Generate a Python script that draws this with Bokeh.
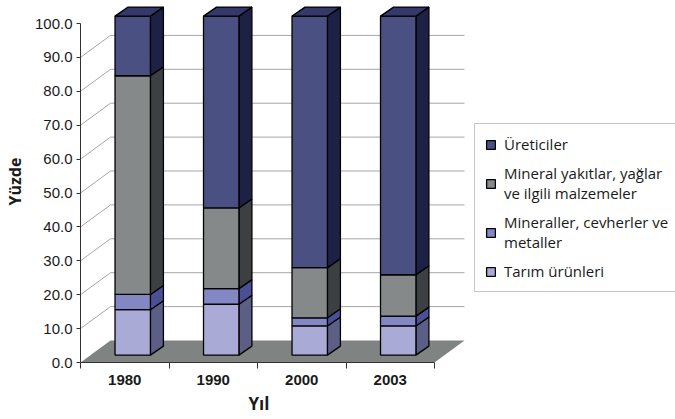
from bokeh.plotting import figure
from bokeh.models import Range1d, FixedTicker, PrintfTickFormatter, Legend, LegendItem, Title
from bokeh.embed import file_html
from bokeh.resources import INLINE

# ---------------- data ----------------
years = ["1980", "1990", "2000", "2003"]
tarim = [13.4, 15.0, 8.6, 8.6]
mineraller = [4.5, 4.6, 2.4, 2.9]
yakitlar = [64.5, 23.8, 14.8, 12.2]
ureticiler = [17.6, 56.6, 74.2, 76.3]
series = [tarim, mineraller, yakitlar, ureticiler]
series_labels = ["Tarım ürünleri",
                 "Mineraller, cevherler ve\nmetaller",
                 "Mineral yakıtlar, yağlar\nve ilgili malzemeler",
                 "Üreticiler"]
y_ticks = [0, 10, 20, 30, 40, 50, 60, 70, 80, 90, 100]
x_title = "Yıl"
y_title = "Yüzde"

# ---------------- styles ----------------
front_colors = ["#a9abd6", "#8387c4", "#85898a", "#4a5082"]
side_colors = ["#5b5e85", "#4b5096", "#3d4043", "#1e2146"]
top_color = "#34386a"
floor_color = "#7f8382"
grid_color = "#a6a6a6"
text_color = "#1a1a1a"

W, H = 675, 419
LEFT, BOTTOM = 80, 57
PX_X, PX_Y = 88.5, 3.39

x_end = (W - LEFT) / PX_X
y_end = (H - BOTTOM) / PX_Y

wall_dx, wall_dy = 30 / PX_X, 22 / PX_Y
bar_dx, bar_dy = 13 / PX_X, 9 / PX_Y
bar_lift = 7.4 / PX_Y
bar_l, bar_r = 0.39, 0.79
n = len(years)

p = figure(width=W, height=H, x_range=Range1d(0, x_end), y_range=Range1d(0, y_end),
           output_backend="svg", toolbar_location=None,
           min_border_left=LEFT, min_border_bottom=BOTTOM,
           min_border_top=0, min_border_right=0)
p.outline_line_color = None
p.xgrid.visible = False
p.ygrid.visible = False
p.background_fill_color = "white"

# floor
p.patch(x=[0, n, n + wall_dx, wall_dx], y=[0, 0, wall_dy, wall_dy],
        fill_color=floor_color, line_color=None)

# back wall gridlines and side-wall diagonals
back = y_ticks[1:-1]
p.segment(x0=[wall_dx] * len(back), y0=[t + wall_dy for t in back],
          x1=[n + wall_dx] * len(back), y1=[t + wall_dy for t in back],
          line_color=grid_color, line_width=1)
p.segment(x0=[0] * len(back), y0=back,
          x1=[wall_dx] * len(back), y1=[t + wall_dy for t in back],
          line_color=grid_color, line_width=1)

# stacked 3-D bars
renderers = []
cum = [0.0] * n
for k, vals in enumerate(series):
    lefts = [i + bar_l for i in range(n)]
    rights = [i + bar_r for i in range(n)]
    bottoms = [bar_lift + c for c in cum]
    tops = [bar_lift + c + v for c, v in zip(cum, vals)]
    cum = [c + v for c, v in zip(cum, vals)]
    p.patches(xs=[[r, r + bar_dx, r + bar_dx, r] for r in rights],
              ys=[[b, b + bar_dy, t + bar_dy, t] for b, t in zip(bottoms, tops)],
              fill_color=side_colors[k], line_color="black", line_width=1.3)
    r = p.quad(left=lefts, right=rights, bottom=bottoms, top=tops,
               fill_color=front_colors[k], line_color="black", line_width=1.3)
    renderers.append(r)
    if k == len(series) - 1:
        p.patches(xs=[[l, r_, r_ + bar_dx, l + bar_dx] for l, r_ in zip(lefts, rights)],
                  ys=[[t, t, t + bar_dy, t + bar_dy] for t in tops],
                  fill_color=top_color, line_color="black", line_width=1.3)

# legend
items = [LegendItem(label=series_labels[k], renderers=[renderers[k]])
         for k in reversed(range(len(series)))]
legend = Legend(items=items, location=(394, 70), padding=10, spacing=9,
                glyph_width=11, glyph_height=11, label_standoff=8, margin=0,
                label_height=18, label_width=185,
                label_text_font="Open Sans", label_text_font_size="15px",
                label_text_line_height=1.2,
                label_text_color=text_color,
                border_line_color="#8c8c8c", border_line_width=1,
                background_fill_color="white", background_fill_alpha=1)
p.add_layout(legend)

# y axis
ya = p.yaxis[0]
ya.ticker = FixedTicker(ticks=y_ticks)
ya.formatter = PrintfTickFormatter(format="%.1f")
ya.bounds = (0, 100)
ya.axis_label = y_title
ya.axis_label_text_font = "Open Sans"
ya.axis_label_text_font_style = "bold"
ya.axis_label_text_font_size = "16px"
ya.axis_label_text_color = text_color
ya.axis_label_standoff = 6
ya.major_label_text_font = "Liberation Sans"
ya.major_label_text_font_size = "15px"
ya.major_label_text_color = text_color
ya.major_label_standoff = 4
ya.major_tick_in = 0
ya.major_tick_out = 4
ya.minor_tick_line_color = None
ya.axis_line_color = "#333333"
ya.major_tick_line_color = "#333333"

# x axis
xa = p.xaxis[0]
centers = [i + 0.5 for i in range(n)]
xa.ticker = FixedTicker(ticks=centers, minor_ticks=list(range(n + 1)))
xa.major_label_overrides = {c: y for c, y in zip(centers, years)}
xa.bounds = (0, n)
xa.major_label_text_font = "Liberation Sans"
xa.major_label_text_font_style = "bold"
xa.major_label_text_font_size = "15px"
xa.major_label_text_color = text_color
xa.major_label_standoff = 6
xa.major_tick_in = 0
xa.major_tick_out = 0
xa.minor_tick_in = 0
xa.minor_tick_out = 6
xa.axis_line_color = "#333333"
xa.minor_tick_line_color = "#333333"

# x axis title, centred under the category band
p.add_layout(Title(text=x_title, align="left", offset=168, standoff=5,
                   text_font="Open Sans", text_font_style="bold",
                   text_font_size="17px", text_color=text_color), "below")

open("out.html", "w").write(file_html(p, INLINE))
